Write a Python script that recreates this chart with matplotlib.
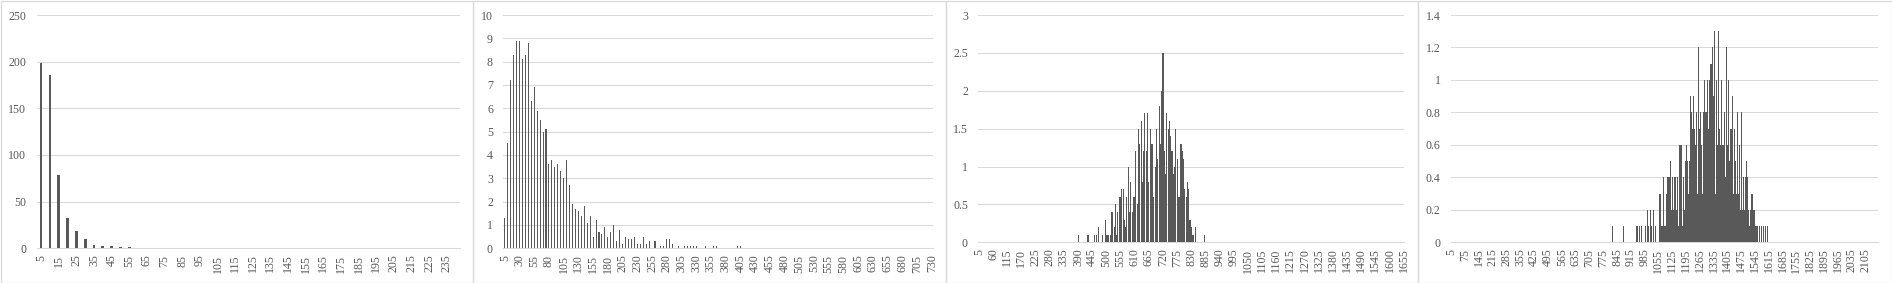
import numpy as np
import matplotlib
matplotlib.use("Agg")
import matplotlib.pyplot as plt
from matplotlib.patches import Rectangle

# ---------------- data ----------------
# categories of every panel: 5, 10, 15, ... (step 5)
p1_ncat = 48          # 5 .. 240
p1_first = 5
p1_values = [199, 186, 79, 33, 19, 10, 4, 2, 2, 1, 1]

p2_ncat = 146         # 5 .. 730
p2_first = 5
p2_values = [1.3, 4.5, 7.2, 8.3, 8.9, 8.9, 8.1, 8.3, 8.8, 6.3,
             6.9, 5.9, 5.5, 5.0, 5.1, 3.6, 3.8, 3.5, 3.6, 3.3,
             3.0, 3.8, 2.7, 1.9, 1.7, 1.6, 1.4, 1.8, 1.1, 1.4,
             0.5, 1.2, 0.7, 0.6, 0.9, 0.5, 0.7, 1.0, 0.3, 0.8,
             0.2, 0.5, 0.4, 0.4, 0.5, 0.2, 0.2, 0.5, 0.2, 0.3,
             0, 0.3, 0, 0.1, 0.1, 0.4, 0.4, 0.2, 0, 0.1,
             0, 0.1, 0.1, 0.1, 0.1, 0.1, 0, 0, 0.1, 0,
             0, 0.1, 0.1, 0, 0, 0, 0, 0, 0, 0.1,
             0.1]

p3_ncat = 331         # 5 .. 1655
p3_first = 390
p3_values = [0.1, 0, 0, 0, 0, 0, 0, 0.1, 0.1, 0,
             0, 0, 0, 0.1, 0.1, 0, 0.2, 0, 0, 0.1,
             0, 0.3, 0.1, 0.1, 0.1, 0.1, 0.4, 0.4, 0.2, 0.5,
             0.1, 0.4, 0.6, 0.6, 0.7, 0.7, 0.3, 0.2, 0.6, 1.0,
             0.4, 0.8, 0.4, 0.6, 0.6, 1.2, 0.5, 1.5, 1.3, 1.6,
             0.8, 1.2, 1.7, 1.2, 1.7, 0.8, 1.5, 1.3, 1.3, 0.6,
             1.0, 1.5, 1.1, 1.8, 1.3, 2.0, 2.5, 1.2, 0.9, 1.7,
             1.5, 1.6, 1.4, 1.2, 0.9, 1.0, 1.5, 1.1, 0.6, 0.6,
             1.3, 1.2, 1.1, 0.7, 0.6, 0.8, 0.7, 0.3, 0.2, 0.1,
             0.1, 0.2, 0, 0, 0, 0, 0, 0, 0.1]

p4_ncat = 433         # 5 .. 2165
p4_first = 820
p4_values = [0.1, 0, 0, 0, 0, 0, 0, 0, 0, 0,
             0, 0, 0.1, 0, 0, 0, 0, 0, 0, 0,
             0, 0, 0, 0, 0, 0.1, 0.1, 0, 0.1, 0,
             0.1, 0, 0, 0, 0.1, 0, 0.2, 0.1, 0, 0.2,
             0.1, 0, 0.2, 0, 0.1, 0, 0, 0, 0.3, 0.3,
             0.1, 0.1, 0.4, 0.1, 0.1, 0.3, 0.4, 0.4, 0.4, 0.5,
             0.2, 0.4, 0.2, 0.4, 0.4, 0.2, 0.4, 0.1, 0.6, 0.6,
             0.6, 0.1, 0.4, 0.2, 0.5, 0.6, 0.5, 0.2, 0.3, 0.5,
             0.9, 0.8, 0.7, 0.9, 0.7, 0.6, 0.8, 0.3, 1.2, 0.7,
             0.8, 0.6, 0.3, 0.8, 1.0, 0.8, 0.8, 1.0, 0.7, 1.0,
             1.1, 1.1, 1.2, 0.9, 1.3, 0.3, 1.0, 0.6, 1.3, 0.7,
             0.6, 1.0, 0.6, 0.6, 0.8, 0.4, 1.2, 0.6, 1.0, 0.5,
             0.7, 0.7, 0.9, 0.3, 0.7, 0.5, 0.3, 0.8, 0.3, 0.6,
             0.2, 0.8, 0.2, 0.4, 0.2, 0.4, 0.5, 0.4, 0.2, 0.1,
             0.2, 0.3, 0.3, 0.2, 0.2, 0.1, 0.1, 0.1, 0.1, 0,
             0.1, 0, 0.1, 0, 0.1, 0, 0.1, 0, 0.1]

p1_yticks = [0, 50, 100, 150, 200, 250]
p2_yticks = [0, 1, 2, 3, 4, 5, 6, 7, 8, 9, 10]
p3_yticks = [0, 0.5, 1, 1.5, 2, 2.5, 3]
p4_yticks = [0, 0.2, 0.4, 0.6, 0.8, 1, 1.2, 1.4]

# ---------------- style ----------------
W, H = 1892, 283
BAR = "#595959"
GRID = "#D9D9D9"
TXT = "#595959"
FONT = ["Liberation Serif", "DejaVu Serif"]

fig = plt.figure(figsize=(W / 100, H / 100), dpi=100)
fig.patch.set_facecolor("white")

# panel frames
for x0, x1 in [(0.5, 472.7), (472.7, 945.7), (945.7, 1417.7), (1417.7, 1891.5)]:
    fig.patches.append(Rectangle((x0 / W, 0.5 / H), (x1 - x0) / W, (282.0) / H,
                                 transform=fig.transFigure, fill=False,
                                 edgecolor=GRID, linewidth=0.9))

def px_axes(l, r, top, bottom):
    return fig.add_axes([l / W, (H - bottom) / H, (r - l) / W, (bottom - top) / H])

panels = [
    dict(rect=(36.7, 460.0, 15.0, 248.3), n=p1_ncat, first=p1_first, vals=p1_values,
         yt=p1_yticks, every=2, width=0.31, aa=False),
    dict(rect=(503.3, 933.3, 15.0, 248.3), n=p2_ncat, first=p2_first, vals=p2_values,
         yt=p2_yticks, every=5, width=0.36, aa=False),
    dict(rect=(978.3, 1404.3, 15.0, 242.3), n=p3_ncat, first=p3_first, vals=p3_values,
         yt=p3_yticks, every=11, width=0.8, aa=False),
    dict(rect=(1451.0, 1877.7, 15.0, 242.3), n=p4_ncat, first=p4_first, vals=p4_values,
         yt=p4_yticks, every=14, width=1.0, aa=True),
]

for p in panels:
    ax = px_axes(*p["rect"])
    n = p["n"]
    cats = np.arange(5, 5 + 5 * n, 5)
    heights = np.zeros(n)
    start = int(np.where(cats == p["first"])[0][0])
    heights[start:start + len(p["vals"])] = p["vals"]
    idx = np.arange(n)
    ax.bar(idx, heights, width=p["width"], color=BAR, linewidth=0,
           antialiased=p["aa"], zorder=3)
    ax.set_xlim(-0.5, n - 0.5)
    ax.set_ylim(p["yt"][0], p["yt"][-1])
    ax.set_yticks(p["yt"])
    ax.set_yticklabels(["{:g}".format(v) for v in p["yt"]])
    ticks = idx[::p["every"]]
    ax.set_xticks(ticks)
    ax.set_xticklabels([str(c) for c in cats[::p["every"]]])
    ax.tick_params(axis="x", length=0, pad=4.5, rotation=90, labelsize=8.6,
                   labelcolor=TXT)
    ax.tick_params(axis="y", length=0, pad=7.5, labelsize=8.6, labelcolor=TXT)
    for lab in ax.get_xticklabels() + ax.get_yticklabels():
        lab.set_family(FONT)
    ax.yaxis.grid(True, color=GRID, linewidth=0.75, zorder=0)
    ax.set_axisbelow(True)
    for s in ["top", "right", "left"]:
        ax.spines[s].set_visible(False)
    ax.spines["bottom"].set_color(GRID)
    ax.spines["bottom"].set_linewidth(0.75)
    ax.set_facecolor("none")

fig.savefig("out.png", dpi=100, facecolor="white")
